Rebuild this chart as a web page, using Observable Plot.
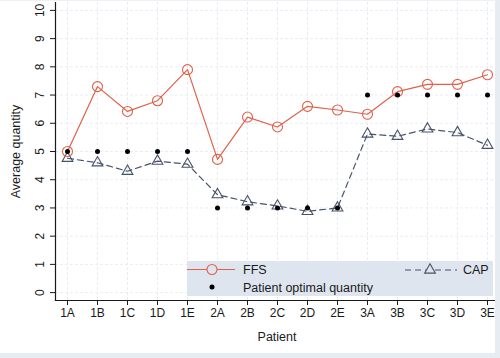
<!DOCTYPE html>
<html>
<head>
<meta charset="utf-8">
<script src="https://cdn.jsdelivr.net/npm/d3@7"></script>
<script src="https://cdn.jsdelivr.net/npm/@observablehq/plot@0.6"></script>
<style>
  html, body { margin: 0; padding: 0; background: #ffffff; }
  #wrap { position: relative; width: 500px; height: 358px; overflow: hidden; font-family: "Liberation Sans", Arial, sans-serif; }
  #edge { position: absolute; left: 0; top: 0; width: 500px; height: 358px; box-sizing: border-box;
          border-right: 5px solid #e7ecf3; border-bottom: 5px solid #e7ecf3; border-top: 1px solid #edf1f6; pointer-events: none; }
  #legend { position: absolute; left: 187px; top: 261px; width: 306px; height: 35px; background: #dfe5ef; }
  #legend svg { position: absolute; left: 0; top: 0; }
</style>
</head>
<body>
<div id="wrap"></div>
<script>
const patients = ["1A","1B","1C","1D","1E","2A","2B","2C","2D","2E","3A","3B","3C","3D","3E"];
const ffs     = [5.0, 7.3, 6.42, 6.8, 7.9, 4.72, 6.22, 5.87, 6.6, 6.47, 6.32, 7.12, 7.38, 7.38, 7.72];
const cap     = [4.76, 4.6, 4.3, 4.66, 4.55, 3.47, 3.22, 3.07, 2.88, 3.0, 5.62, 5.54, 5.8, 5.67, 5.22];
const optimal = [5, 5, 5, 5, 5, 3, 3, 3, 3, 3, 7, 7, 7, 7, 7];
const yTicks  = [0, 1, 2, 3, 4, 5, 6, 7, 8, 9, 10];

const ffsData = patients.map((p, i) => ({patient: p, value: ffs[i]}));
const capData = patients.map((p, i) => ({patient: p, value: cap[i]}));
const optData = patients.map((p, i) => ({patient: p, value: optimal[i]}));

const red = "#e0614a";
const slate = "#47536a";
const gridColor = "#e9edf2";

const chart = Plot.plot({
  width: 500,
  height: 358,
  marginLeft: 55,
  marginRight: 2,
  marginTop: 2,
  marginBottom: 58,
  style: {fontFamily: "'Liberation Sans', Arial, sans-serif", fontSize: "12px", background: "transparent", color: "#1a1a1a"},
  x: {type: "point", domain: patients, padding: 0.296},
  y: {domain: [-0.28, 10.28]},
  marks: [
    Plot.gridX(patients, {stroke: gridColor, strokeOpacity: 1, strokeDasharray: "3,2"}),
    Plot.gridY(yTicks, {stroke: gridColor, strokeOpacity: 1, strokeDasharray: "3,2"}),
    Plot.frame({anchor: "left", stroke: "#1a1a1a", strokeWidth: 1.2}),
    Plot.frame({anchor: "bottom", stroke: "#1a1a1a", strokeWidth: 1.2}),
    Plot.axisX(patients, {tickSize: 5, tickPadding: 3, fontSize: 12, label: null, stroke: "#1a1a1a"}),
    Plot.axisY(yTicks, {tickSize: 5, tickPadding: 7, tickRotate: -90, fontSize: 12, label: null, stroke: "#1a1a1a"}),
    Plot.text(["Patient"], {frameAnchor: "bottom", dy: 40, fontSize: 12.5, fill: "#1a1a1a"}),
    Plot.text(["Average quantity"], {frameAnchor: "left", dx: -40, rotate: -90, fontSize: 12.5, fill: "#1a1a1a", textAnchor: "middle"}),
    Plot.line(capData, {x: "patient", y: "value", stroke: slate, strokeWidth: 1.2, strokeDasharray: "6,4"}),
    Plot.line(ffsData, {x: "patient", y: "value", stroke: red, strokeWidth: 1.2}),
    Plot.dot(capData, {x: "patient", y: "value", symbol: "triangle", r: 4, stroke: slate, strokeWidth: 1.1, fill: "none"}),
    Plot.dot(ffsData, {x: "patient", y: "value", symbol: "circle", r: 5, stroke: red, strokeWidth: 1.1, fill: "none"}),
    Plot.dot(optData, {x: "patient", y: "value", r: 2.5, fill: "#000000", stroke: "none"})
  ]
});

const wrap = document.getElementById("wrap");
wrap.appendChild(chart);

// Legend
const legend = document.createElement("div");
legend.id = "legend";
legend.innerHTML = `
<svg width="306" height="35" font-family="'Liberation Sans', Arial, sans-serif" font-size="12.5">
  <line x1="-2" x2="48" y1="8.5" y2="8.5" stroke="${red}" stroke-width="1.2"/>
  <circle cx="25" cy="8.5" r="5" fill="#dfe5ef" stroke="${red}" stroke-width="1.1"/>
  <text x="56" y="13" fill="#1a1a1a">FFS</text>
  <line x1="218" x2="270" y1="9" y2="9" stroke="${slate}" stroke-width="1.2" stroke-dasharray="6,4"/>
  <path d="${d3.symbol(d3.symbolTriangle, 50)()}" transform="translate(243,9)" fill="#dfe5ef" stroke="${slate}" stroke-width="1.1"/>
  <text x="276" y="13" fill="#1a1a1a">CAP</text>
  <circle cx="25" cy="26" r="2.5" fill="#000"/>
  <text x="56" y="30.5" fill="#1a1a1a">Patient optimal quantity</text>
</svg>`;
wrap.appendChild(legend);

const edge = document.createElement("div");
edge.id = "edge";
wrap.appendChild(edge);
</script>
</body>
</html>
